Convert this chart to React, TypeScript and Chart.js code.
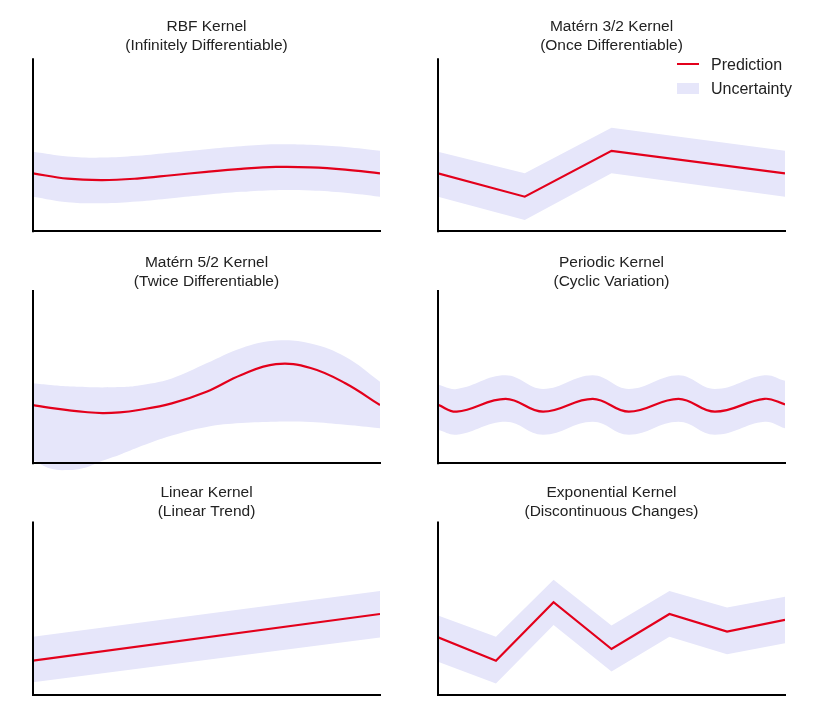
import React, { useEffect, useRef } from "react";
import { Chart, registerables } from "chart.js";

Chart.register(...registerables);

// ---------------- data ----------------
const X_MIN = 0;
const X_MAX = 10;
const Y_MIN = -0.6;
const Y_MAX = 10;

const RBF_X = [0, 1, 2, 3, 4, 5, 6, 7, 8, 9, 10];
const RBF_MEAN = [3.35, 3.04, 2.96, 3.05, 3.24, 3.44, 3.61, 3.72, 3.7, 3.57, 3.35];
const RBF_UPPER = [4.6, 4.33, 4.26, 4.36, 4.55, 4.75, 4.92, 5.03, 5.0, 4.87, 4.65];
const RBF_LOWER = [2.0, 1.68, 1.62, 1.72, 1.91, 2.11, 2.28, 2.38, 2.36, 2.23, 2.0];

const M32_X = [0, 2.5, 5, 10];
const M32_MEAN = [3.35, 2.0, 4.65, 3.35];
const M32_UPPER = [4.6, 3.35, 5.98, 4.65];
const M32_LOWER = [2.0, 0.65, 3.35, 2.0];

const M52_X = [0, 0.5, 1, 1.5, 2, 2.5, 3, 4, 5, 6, 7, 8, 9, 10];
const M52_MEAN = [3.36, 3.2, 3.07, 2.96, 2.9, 2.94, 3.06, 3.46, 4.13, 5.1, 5.72, 5.5, 4.62, 3.36];
const M52_UPPER = [4.62, 4.52, 4.44, 4.4, 4.38, 4.4, 4.48, 4.9, 5.77, 6.64, 7.08, 6.92, 6.15, 4.71];
const M52_LOWER = [0.19, -0.3, -0.39, -0.25, 0.15, 0.5, 0.9, 1.6, 2.1, 2.32, 2.4, 2.38, 2.22, 2.02];

const PER_X = [0, 0.54, 1.95, 3.03, 4.46, 5.5, 6.93, 7.98, 9.41, 10];
const PER_MEAN = [3.37, 2.98, 3.72, 2.98, 3.72, 2.98, 3.72, 2.98, 3.72, 3.4];
const PER_UPPER = [4.53, 4.29, 5.08, 4.29, 5.08, 4.29, 5.08, 4.29, 5.08, 4.76];
const PER_LOWER = [1.93, 1.65, 2.4, 1.65, 2.4, 1.65, 2.4, 1.65, 2.4, 2.02];

const LIN_X = [0, 10];
const LIN_MEAN = [1.98, 4.67];
const LIN_UPPER = [3.36, 6.0];
const LIN_LOWER = [0.73, 3.31];

const EXP_X = [0, 1.67, 3.33, 5, 6.67, 8.33, 10];
const EXP_MEAN = [3.33, 1.98, 5.35, 2.65, 4.67, 3.65, 4.33];
const EXP_UPPER = [4.58, 3.36, 6.64, 4.0, 6.0, 5.04, 5.67];
const EXP_LOWER = [1.92, 0.67, 4.04, 1.35, 3.36, 2.35, 2.98];

const TITLES = [
  ["RBF Kernel", "(Infinitely Differentiable)"],
  ["Matérn 3/2 Kernel", "(Once Differentiable)"],
  ["Matérn 5/2 Kernel", "(Twice Differentiable)"],
  ["Periodic Kernel", "(Cyclic Variation)"],
  ["Linear Kernel", "(Linear Trend)"],
  ["Exponential Kernel", "(Discontinuous Changes)"],
];

const LEGEND_LABELS = ["Prediction", "Uncertainty"];

// ---------------- style / layout ----------------
const FONT = "'Liberation Sans', Arial, Helvetica, sans-serif";
const RED = "#e3001b";
const LAVENDER = "#e6e6fa";
const TEXT = "#222";
const TITLE_SIZE = 15.5;
const LH = 19;
const PAD_X = 20;

const ROWS = [
  { canvasTop: 13, line1: 27, plotTop: 58.3, plotBottom: 231.3 },
  { canvasTop: 248, line1: 262.5, plotTop: 290, plotBottom: 463.3 },
  { canvasTop: 478, line1: 492.3, plotTop: 521.5, plotBottom: 695 },
];
const COLS = [
  { plotLeft: 33, plotRight: 380 },
  { plotLeft: 438, plotRight: 785 },
];

type PanelSpec = {
  xs: number[];
  mean: number[];
  upper: number[];
  lower: number[];
  smooth: boolean;
  title: string[];
  row: number;
  col: number;
};

const PANELS: PanelSpec[] = [
  { xs: RBF_X, mean: RBF_MEAN, upper: RBF_UPPER, lower: RBF_LOWER, smooth: true, title: TITLES[0], row: 0, col: 0 },
  { xs: M32_X, mean: M32_MEAN, upper: M32_UPPER, lower: M32_LOWER, smooth: false, title: TITLES[1], row: 0, col: 1 },
  { xs: M52_X, mean: M52_MEAN, upper: M52_UPPER, lower: M52_LOWER, smooth: true, title: TITLES[2], row: 1, col: 0 },
  { xs: PER_X, mean: PER_MEAN, upper: PER_UPPER, lower: PER_LOWER, smooth: true, title: TITLES[3], row: 1, col: 1 },
  { xs: LIN_X, mean: LIN_MEAN, upper: LIN_UPPER, lower: LIN_LOWER, smooth: false, title: TITLES[4], row: 2, col: 0 },
  { xs: EXP_X, mean: EXP_MEAN, upper: EXP_UPPER, lower: EXP_LOWER, smooth: false, title: TITLES[5], row: 2, col: 1 },
];

const pts = (xs: number[], ys: number[]) => xs.map((x, i) => ({ x, y: ys[i] }));

const yAxisLine = {
  id: "yAxisLine",
  afterDatasetsDraw(chart: any) {
    const { ctx, scales } = chart;
    const x = scales.x.getPixelForValue(X_MIN);
    const yTop = scales.y.getPixelForValue(Y_MAX);
    const y0 = scales.y.getPixelForValue(0);
    ctx.save();
    ctx.strokeStyle = "#000";
    ctx.lineWidth = 2;
    ctx.beginPath();
    ctx.moveTo(x, yTop);
    ctx.lineTo(x, y0 + 1);
    ctx.stroke();
    ctx.restore();
  },
};

function geometry(p: PanelSpec) {
  const r = ROWS[p.row];
  const c = COLS[p.col];
  const unit = (r.plotBottom - r.plotTop) / Y_MAX;
  const areaH = unit * (Y_MAX - Y_MIN);
  const tp = r.line1 - r.canvasTop - LH / 2;
  const tb = r.plotTop - r.canvasTop - tp - 2 * LH;
  const height = Math.ceil(r.plotTop - r.canvasTop + areaH + 2);
  const padB = height - (r.plotTop - r.canvasTop) - areaH;
  return {
    left: c.plotLeft - PAD_X,
    top: r.canvasTop,
    width: c.plotRight - c.plotLeft + 2 * PAD_X,
    height,
    tp,
    tb,
    padB,
  };
}

function Panel({ spec }: { spec: PanelSpec }) {
  const ref = useRef<HTMLCanvasElement | null>(null);
  const g = geometry(spec);
  useEffect(() => {
    if (!ref.current) return;
    const curve = { tension: spec.smooth ? 0.4 : 0 };
    const chart = new Chart(ref.current, {
      type: "line",
      data: {
        datasets: [
          {
            label: LEGEND_LABELS[0],
            data: pts(spec.xs, spec.mean),
            borderColor: RED,
            borderWidth: 2.2,
            pointRadius: 0,
            fill: false,
            order: 0,
            ...curve,
          },
          {
            label: "upper",
            data: pts(spec.xs, spec.upper),
            borderWidth: 0,
            borderColor: "rgba(0,0,0,0)",
            backgroundColor: LAVENDER,
            pointRadius: 0,
            fill: "+1",
            order: 1,
            ...curve,
          },
          {
            label: "lower",
            data: pts(spec.xs, spec.lower),
            borderWidth: 0,
            borderColor: "rgba(0,0,0,0)",
            backgroundColor: LAVENDER,
            pointRadius: 0,
            fill: false,
            order: 2,
            ...curve,
          },
        ],
      },
      options: {
        animation: false,
        responsive: true,
        maintainAspectRatio: false,
        events: [],
        layout: { padding: { left: PAD_X, right: PAD_X, top: 0, bottom: g.padB } },
        plugins: {
          legend: { display: false },
          tooltip: { enabled: false },
          title: {
            display: true,
            text: spec.title,
            color: TEXT,
            font: { family: FONT, size: TITLE_SIZE, weight: "normal", lineHeight: LH + "px" },
            padding: { top: g.tp, bottom: g.tb },
          },
        },
        scales: {
          x: {
            type: "linear",
            min: X_MIN,
            max: X_MAX,
            position: { y: 0 } as any,
            z: 1,
            ticks: { display: false },
            grid: { display: false, drawTicks: false },
            border: { display: true, color: "#000", width: 2, z: 1 },
          },
          y: {
            type: "linear",
            min: Y_MIN,
            max: Y_MAX,
            display: false,
          },
        },
      } as any,
      plugins: [yAxisLine],
    });
    return () => chart.destroy();
  }, []);
  return (
    <div style={{ position: "absolute", left: g.left, top: g.top, width: g.width, height: g.height }}>
      <canvas ref={ref} />
    </div>
  );
}

function Legend() {
  const text: React.CSSProperties = {
    position: "absolute",
    left: 711,
    fontFamily: FONT,
    fontSize: 16,
    lineHeight: "16px",
    color: TEXT,
    whiteSpace: "nowrap",
  };
  return (
    <>
      <div style={{ position: "absolute", left: 677, top: 63, width: 22, height: 2, background: RED }} />
      <div style={{ ...text, top: 57 }}>{LEGEND_LABELS[0]}</div>
      <div style={{ position: "absolute", left: 677, top: 83, width: 22, height: 11, background: LAVENDER }} />
      <div style={{ ...text, top: 81 }}>{LEGEND_LABELS[1]}</div>
    </>
  );
}

export default function App() {
  return (
    <div style={{ position: "absolute", left: 0, top: 0, width: 832, height: 716, background: "#fff" }}>
      {PANELS.map((p, i) => (
        <Panel key={i} spec={p} />
      ))}
      <Legend />
    </div>
  );
}
